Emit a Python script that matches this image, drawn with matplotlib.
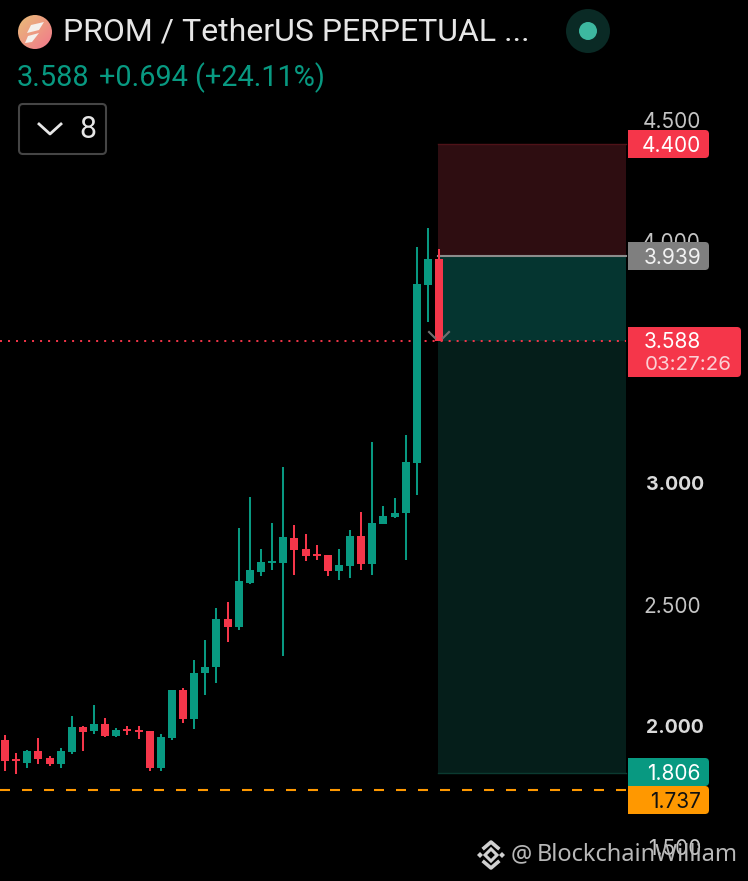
import numpy as np
import matplotlib
matplotlib.use('Agg')
from matplotlib import pyplot as plt
from matplotlib.patches import Circle, FancyBboxPatch, Rectangle, Polygon

# candles
opens = [1.942, 1.864, 1.847, 1.897, 1.868, 1.843, 1.893, 1.996, 1.979, 2.008,
         1.959, 1.988, 1.984, 1.979, 1.827, 1.951, 2.148, 2.029, 2.219, 2.243,
         2.441, 2.408, 2.590, 2.635, 2.672, 2.672, 2.775, 2.730, 2.709, 2.705,
         2.639, 2.660, 2.784, 2.668, 2.833, 2.862, 2.878, 3.085, 3.819, 3.926]
closes = [1.856, 1.856, 1.897, 1.864, 1.843, 1.897, 1.996, 1.975, 2.008, 1.959,
          1.984, 1.979, 1.975, 1.827, 1.955, 2.148, 2.029, 2.219, 2.243, 2.441,
          2.408, 2.598, 2.643, 2.676, 2.680, 2.779, 2.726, 2.701, 2.701, 2.639,
          2.664, 2.784, 2.668, 2.837, 2.866, 2.878, 3.089, 3.823, 3.926, 3.588]
highs = [1.963, 1.889, 1.901, 1.951, 1.876, 1.909, 2.041, 2.000, 2.087, 2.033,
         1.992, 2.000, 2.000, 1.979, 1.967, 2.148, 2.157, 2.272, 2.355, 2.487,
         2.511, 2.816, 2.944, 2.730, 2.837, 3.068, 2.829, 2.792, 2.746, 2.705,
         2.730, 2.808, 2.882, 3.171, 2.907, 2.940, 3.200, 3.975, 4.054, 3.967]
lows = [1.814, 1.802, 1.827, 1.843, 1.835, 1.827, 1.885, 1.897, 1.967, 1.955,
        1.955, 1.963, 1.946, 1.814, 1.814, 1.942, 2.012, 1.988, 2.128, 2.177,
        2.346, 2.396, 2.586, 2.619, 2.643, 2.289, 2.623, 2.680, 2.685, 2.619,
        2.602, 2.610, 2.643, 2.623, 2.833, 2.858, 2.685, 2.953, 3.666, 3.588]

y_ticks = [4.5, 4.0, 3.0, 2.5, 2.0, 1.5]
y_labels = ['4.500', '4.000', '3.000', '2.500', '2.000', '1.500']
stop_price = 4.400
entry_price = 3.939
last_price = 3.588
target_price = 1.806
alert_price = 1.737

GREEN = '#089981'
RED = '#F5364A'
W, H = 748, 881

fig = plt.figure(figsize=(7.48, 8.81), dpi=100, facecolor='black')
ax = fig.add_axes([0, 0, 1, 1])
ax.set_facecolor('black')
ax.set_xlim(-5 / 11.13, 743 / 11.13)
ax.set_ylim(1.3608, 4.9938)
ax.axis('off')

# pixel overlay for the ui bits
ui = fig.add_axes([0, 0, 1, 1])
ui.set_xlim(0, W)
ui.set_ylim(H, 0)
ui.axis('off')
ui.patch.set_alpha(0)


def py(price):
    return H - ax.transData.transform((0, price))[1]


x_to_bar = lambda px: (px - 5) / 11.13
box_l, box_r = x_to_bar(438), x_to_bar(626)

# position tool
ax.add_patch(Rectangle((box_l, entry_price), box_r - box_l, stop_price - entry_price,
                       fc='#2E0D11', ec='none', zorder=1))
ax.add_patch(Rectangle((box_l, last_price), box_r - box_l, entry_price - last_price,
                       fc='#053530', ec='none', zorder=1))
ax.add_patch(Rectangle((box_l, target_price), box_r - box_l, last_price - target_price,
                       fc='#051E1A', ec='none', zorder=1))
ax.plot([box_l, box_r], [stop_price] * 2, color='#4E1218', lw=1, zorder=2)
ax.plot([box_l, box_r], [target_price] * 2, color='#0B3A30', lw=1, zorder=2)
ax.plot([box_l, box_r], [entry_price] * 2, color='#8C8C8C', lw=1.5, zorder=2)

# price lines
ax.plot([x_to_bar(0), box_r], [alert_price] * 2, color='#FF9800', lw=1.5,
        dashes=(4.8, 5.76), zorder=2)
ax.plot([x_to_bar(0), box_r], [last_price] * 2, color=RED, lw=1.4,
        dashes=(1.03, 3.09), zorder=3)

# candles
xs = np.arange(len(opens))
o, c, h, l = map(np.array, (opens, closes, highs, lows))
colors = [GREEN if b >= a else RED for a, b in zip(o, c)]
ax.vlines(xs, l, h, colors=colors, lw=1.45, zorder=4, capstyle='butt')
ax.bar(xs, np.abs(c - o), bottom=np.minimum(o, c), width=0.72, color=colors, zorder=5)

# small chevron either side of the last candle
ui.plot([429, 435], [332, 338], color='#707070', lw=1.5, zorder=3)
ui.plot([443, 449], [338, 332], color='#707070', lw=1.5, zorder=3)

# price axis
axis_font = dict(family='Inter', fontsize=15, ha='right', va='center')
for p, s in zip(y_ticks, y_labels):
    if s in ('3.000', '2.000'):
        ui.text(704, py(p) + 2, s, color='#DADADA', fontweight='bold', family='Inter',
                fontsize=14, ha='right', va='center', zorder=2)
    else:
        ui.text(701, py(p) + 2, s, color='#C4C4C4', zorder=2, **axis_font)


def tag(y0, y1, x1, color):
    y0, y1 = round(y0), round(y1)
    ui.add_patch(FancyBboxPatch((634, y0 + 4), x1 - 634 - 4, y1 - y0 - 8,
                                boxstyle='round,pad=4', fc=color, ec='none', zorder=6))
    ui.add_patch(Rectangle((628, y0), 10, y1 - y0, fc=color, ec='none', zorder=6))


tag(py(stop_price) - 14, py(stop_price) + 14, 709, RED)
ui.text(701, py(stop_price) + 2, '4.400', color='white', zorder=7, **axis_font)
tag(py(entry_price) - 14, py(entry_price) + 14, 709, '#7F7F7F')
ui.text(701, py(entry_price) + 2, '3.939', color='#F2F2F2', zorder=7, **axis_font)
tag(327, 377, 741, RED)
ui.text(701, py(last_price) + 1, '3.588', color='white', zorder=7, **axis_font)
ui.text(732, 365, '03:27:26', color='#FBD0D5', family='Inter', fontsize=14.8,
        ha='right', va='center', zorder=7)
tag(758, 786, 709, GREEN)
ui.text(701, 774, '1.806', color='white', zorder=7, **axis_font)
tag(786, 814, 709, '#FF9800')
ui.text(701, 802, '1.737', color='#111111', zorder=7, **axis_font)

# header
grad = np.linspace(0, 1, 40)
gx, gy = np.meshgrid(grad, grad)
mix = np.clip((gx + (1 - gy)) / 2, 0, 1)[..., None]
pink = np.array([0.95, 0.47, 0.55])
sand = np.array([0.91, 0.74, 0.47])
im = ui.imshow(mix[:, ::-1] * sand + (1 - mix[:, ::-1]) * pink, extent=(18, 52, 49, 15),
               zorder=6, aspect='auto')
im.set_clip_path(Circle((35, 32), 17, transform=ui.transData))
ui.set_xlim(0, W)
ui.set_ylim(H, 0)
ui.add_patch(Polygon([[44, 22], [31, 25], [27, 33], [39, 30]], fc='#F4F0EC', ec='none', zorder=7))
ui.add_patch(Polygon([[39, 33], [28, 36], [25, 43], [32, 42]], fc='#F4F0EC', ec='none', zorder=7))

ui.text(63, 32, 'PROM / TetherUS PERPETUAL ...', color='#E6E6E6', family='Roboto',
        fontsize=23, va='center', ha='left')
ui.text(17, 78, '3.588', color=GREEN, family='Roboto', fontsize=20.8, va='center', ha='left')
ui.text(99, 78, '+0.694 (+24.11%)', color=GREEN, family='Roboto', fontsize=20.8,
        va='center', ha='left')

ui.add_patch(Circle((588, 31), 22, fc='#0A2A25', ec='none'))
ui.add_patch(Circle((588, 31), 9, fc='#3DB8A0', ec='none'))

ui.add_patch(FancyBboxPatch((23, 108), 79, 42, boxstyle='round,pad=4', fc='black',
                            ec='#454545', lw=1.5))
ui.plot([39, 50, 61], [124, 134, 124], color='#E6E6E6', lw=2)
ui.text(88, 130, '8', color='#E6E6E6', family='Roboto', fontsize=22, ha='center', va='center')

# watermark
for cx, cy, r in [(480, 855, 3), (502, 855, 3)]:
    ui.add_patch(Polygon([[cx - r, cy], [cx, cy - r], [cx + r, cy], [cx, cy + r]],
                         fc='#D0D0D0', ec='none', zorder=8))
ui.add_patch(Polygon([[485, 855], [491, 849], [497, 855], [491, 861]], fc='none',
                     ec='#D0D0D0', lw=2.2, zorder=8))
ui.plot([484, 491, 498], [848, 842, 848], color='#D0D0D0', lw=2.6, zorder=8)
ui.plot([484, 491, 498], [862, 868, 862], color='#D0D0D0', lw=2.6, zorder=8)
ui.text(511, 855, '@', color='#B8B8B8', family='Noto Sans', fontsize=17, ha='left',
        va='center', zorder=8)
ui.text(537, 855, 'BlockchainWilliam', color='#B8B8B8', family='Noto Sans', fontsize=17,
        ha='left', va='center', zorder=8)

fig.savefig('out.png', dpi=100, facecolor='black')
